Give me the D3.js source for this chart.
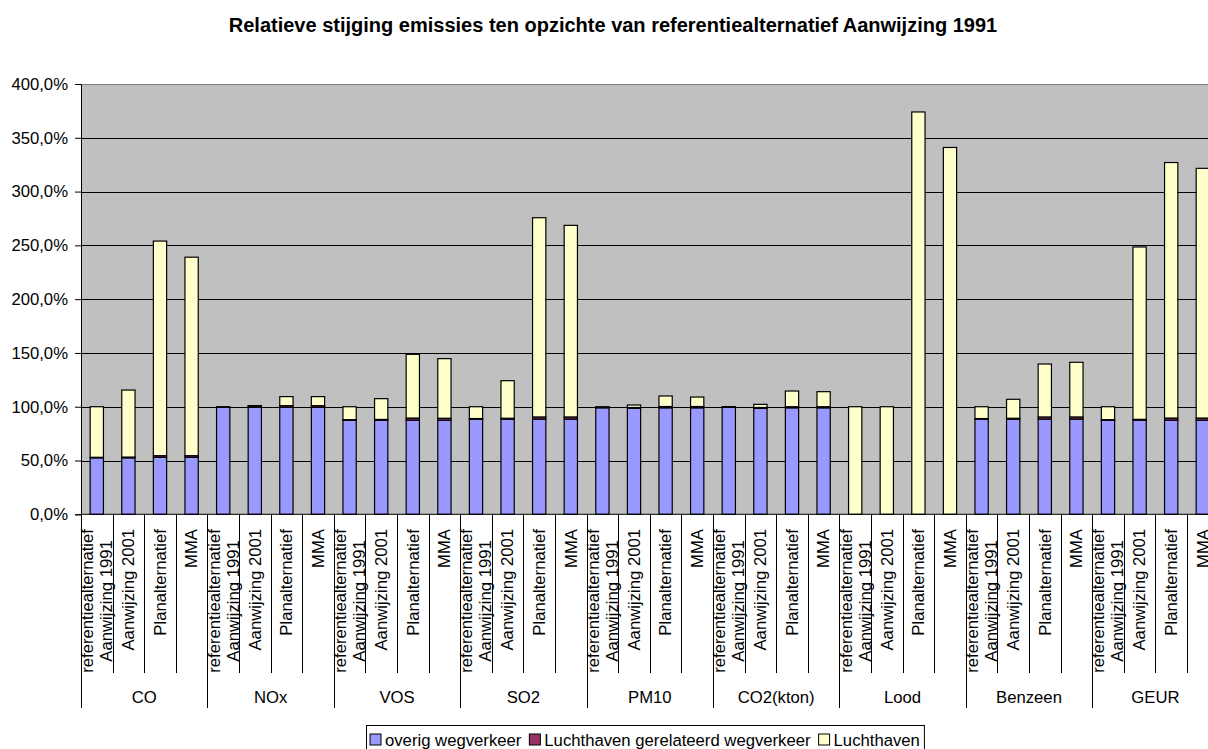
<!DOCTYPE html>
<html><head><meta charset="utf-8">
<script src="https://cdn.jsdelivr.net/npm/d3@7"></script>
<style>
html,body{margin:0;padding:0;background:#fff;overflow:hidden;}
text{font-family:Arial,"Liberation Sans",sans-serif;}
</style></head>
<body><svg id="c" width="1208" height="749"></svg>
<script>
const title = "Relatieve stijging emissies ten opzichte van referentiealternatief Aanwijzing 1991";
const groups = ["CO","NOx","VOS","SO2","PM10","CO2(kton)","Lood","Benzeen","GEUR"];
const alternatives = ["referentiealternatief\nAanwijzing 1991","Aanwijzing 2001","Planalternatief","MMA"];
const seriesNames = ["overig wegverkeer","Luchthaven gerelateerd wegverkeer","Luchthaven"];
const seriesColors = ["#9999FF","#993366","#FFFFCC"];
// values in % per group (4 alternatives each)
const overigWegverkeer = [
  52.5,52.5,53,53,  99.5,99.5,99.5,99.5,  87.5,87.5,87.5,87.5,  88.5,88.5,88.5,88.5,
  99,98.5,99,99,  99.5,98.5,99,99,  0,0,0,0,  88.5,88.5,88.5,88.5,  87.5,87.5,87.5,87.5];
const luchthavenWegverkeer = [
  0.5,0.7,1.5,1.5,  0.5,1.3,1.5,1.5,  0.5,0.7,2,1.8,  0.5,0.8,2,2,
  0.5,0.8,1.2,1.2,  0.3,0.8,1,1,  0,0,0,0,  0.5,0.8,2,2,  0.5,0.8,2,2];
const luchthaven = [
  47,62.3,199.5,184.5,  0,0.2,8.4,8.4,  12,19.3,59.2,55.4,  11,34.9,185.2,178.1,
  0.5,2.3,9.8,8.8,  0.2,2.9,14.6,14,  100,100,374,341,  11,17.6,49.2,50.8,  12,160.2,237.5,232.1];
const yTicks = [0,50,100,150,200,250,300,350,400];

const svg = d3.select("#c");
const FS = 16.7;
const L = 81, R = 1218.6, T = 84, B = 514.3;

const keys = [];
groups.forEach(g => alternatives.forEach(a => keys.push(g + "|" + a)));
const x = d3.scaleBand().domain(keys).range([L, R]).padding(0);
const y = d3.scaleLinear().domain([0, 400]).range([B, T]);
const loc = d3.formatLocale({decimal: ",", thousands: ".", grouping: [3], currency: ["€",""]});
const fmt = v => loc.format(".1f")(v) + "%";

// title
svg.append("text").attr("x", 613).attr("y", 32).attr("text-anchor", "middle")
  .attr("font-weight", "bold").attr("font-size", 20).text(title);

// plot area
svg.append("rect").attr("x", L).attr("y", T).attr("width", R - L).attr("height", B - T)
  .attr("fill", "#C0C0C0");
svg.append("g").selectAll("line").data(yTicks.filter(v => v > 0 && v < 400)).join("line")
  .attr("x1", L).attr("x2", R).attr("y1", d => Math.round(y(d)) + 0.5).attr("y2", d => Math.round(y(d)) + 0.5)
  .attr("stroke", "#000").attr("stroke-width", 1);
svg.append("line").attr("x1", L).attr("x2", R).attr("y1", T + 0.5).attr("y2", T + 0.5)
  .attr("stroke", "#808080");

// stacked bars
const rows = keys.map((k, i) => ({key: k, s0: overigWegverkeer[i], s1: luchthavenWegverkeer[i], s2: luchthaven[i]}));
const stack = d3.stack().keys(["s0", "s1", "s2"])(rows);
const bw = x.bandwidth() * 0.42;
stack.forEach((layer, li) => {
  svg.append("g").selectAll("rect").data(layer.filter(d => d[1] - d[0] > 0)).join("rect")
    .attr("x", d => x(d.data.key) + (x.bandwidth() - bw) / 2)
    .attr("width", bw)
    .attr("y", d => y(d[1]))
    .attr("height", d => y(d[0]) - y(d[1]))
    .attr("fill", seriesColors[li]).attr("stroke", "#000").attr("stroke-width", 1.2);
});

// y axis
const yAxis = d3.axisLeft(y).tickValues(yTicks).tickFormat(fmt).tickSize(6).tickPadding(7);
const gy = svg.append("g").attr("transform", `translate(${L},0)`).call(yAxis);
gy.select(".domain").attr("stroke", "#000");
gy.selectAll(".tick line").attr("stroke", "#000");
gy.selectAll("text").attr("font-size", FS).attr("fill", "#000").attr("font-family", "Arial, 'Liberation Sans', sans-serif");

// x axis baseline
svg.append("line").attr("x1", L).attr("x2", R).attr("y1", B).attr("y2", B).attr("stroke", "#000");

// category ticks and group lines
keys.forEach((k, i) => {
  const xx = Math.round(x(k)) + 0.5;
  const isGroup = i % 4 === 0;
  svg.append("line").attr("x1", xx).attr("x2", xx).attr("y1", B).attr("y2", isGroup ? 708 : 673)
    .attr("stroke", "#000").attr("stroke-width", 1);
});
svg.append("line").attr("x1", R).attr("x2", R).attr("y1", B).attr("y2", 708).attr("stroke", "#000");

// category labels
keys.forEach(k => {
  const alt = k.split("|")[1];
  const lines = alt.split("\n");
  const cx = x(k) + x.bandwidth() / 2;
  const lh = 19;
  const g = svg.append("g").attr("transform", `translate(${cx},529) rotate(-90)`);
  const ts = lines.map((ln, j) => g.append("text")
    .attr("y", (j - (lines.length - 1) / 2) * lh)
    .attr("dy", "0.35em").attr("font-size", FS).text(ln));
  const widths = ts.map(t => t.node().getComputedTextLength());
  const maxW = d3.max(widths);
  ts.forEach(t => t.attr("x", -maxW / 2).attr("text-anchor", "middle"));
});

// group labels
groups.forEach((gname, gi) => {
  const x0 = x(gname + "|" + alternatives[0]);
  const x1 = x(gname + "|" + alternatives[3]) + x.bandwidth();
  svg.append("text").attr("x", (x0 + x1) / 2).attr("y", 697).attr("dy", "0.35em")
    .attr("text-anchor", "middle").attr("font-size", FS).text(gname);
});

// legend
const lg = svg.append("g");
const lx = 366, ly = 725;
let cur = lx + 4;
const items = [];
seriesNames.forEach((n, i) => {
  lg.append("rect").attr("x", cur).attr("y", ly + 9).attr("width", 11).attr("height", 11)
    .attr("fill", seriesColors[i]).attr("stroke", "#000");
  const t = lg.append("text").attr("x", cur + 15).attr("y", ly + 15).attr("dy", "0.35em")
    .attr("font-size", FS).text(n);
  cur += 15 + t.node().getComputedTextLength() + 8;
});
lg.insert("rect", ":first-child").attr("x", lx + 0.5).attr("y", ly + 0.5).attr("width", cur - lx - 4).attr("height", 30)
  .attr("fill", "#fff").attr("stroke", "#000");
</script></body></html>
